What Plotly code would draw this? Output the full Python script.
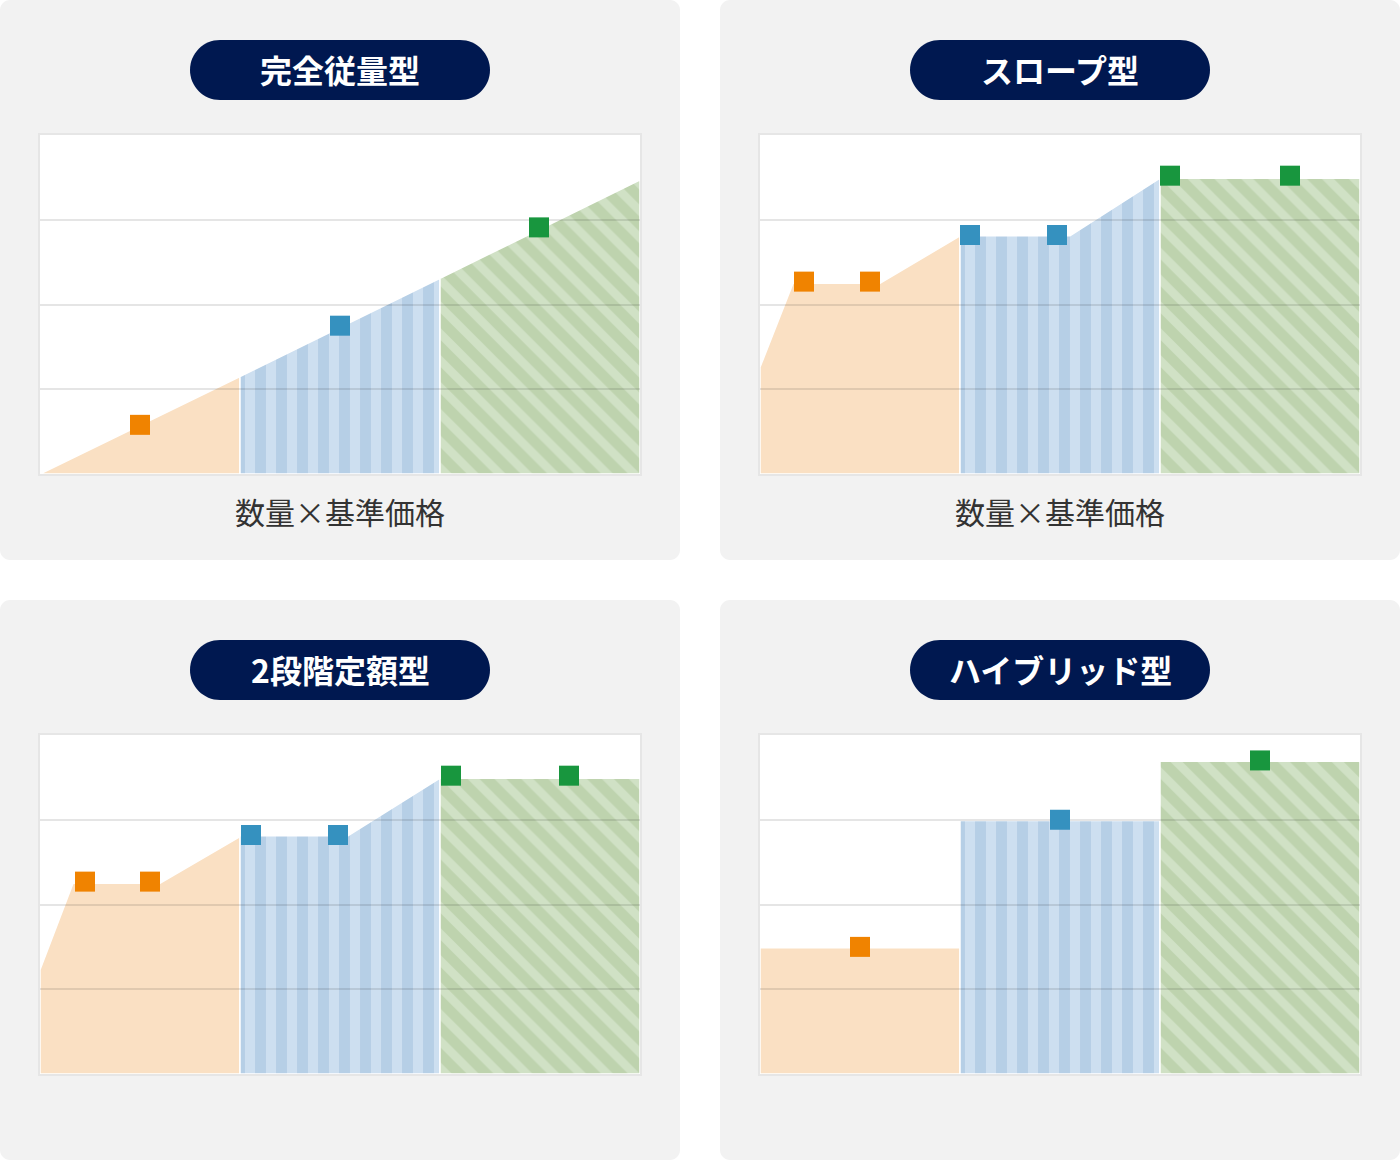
import plotly.graph_objects as go

W, H = 1400, 1160

TITLES = ["完全従量型", "スロープ型", "2段階定額型", "ハイブリッド型"]
X_LABEL = "数量×基準価格"

# x: 0-1 low band, 1-2 middle band, 2-3 high band; y: 0-4 (grid every 1)
# panel 1 完全従量型
p1_orange_x = [0, 1.0]
p1_orange_y = [0, 1.15]
p1_blue_x = [1.0, 2.0]
p1_blue_y = [1.15, 2.31]
p1_green_x = [2.0, 3.0]
p1_green_y = [2.31, 3.47]
p1_dot_orange = ([0.5], [0.58])
p1_dot_blue = ([1.5], [1.75])
p1_dot_green = ([2.495], [2.91])

# panel 2 スロープ型
p2_orange_x = [0, 0.165, 0.6, 1.0]
p2_orange_y = [1.26, 2.25, 2.25, 2.81]
p2_blue_x = [1.0, 1.55, 2.0]
p2_blue_y = [2.81, 2.81, 3.49]
p2_green_x = [2.0, 3.0]
p2_green_y = [3.49, 3.49]
p2_dot_orange = ([0.22, 0.55], [2.27, 2.27])
p2_dot_blue = ([1.05, 1.485], [2.82, 2.82])
p2_dot_green = ([2.05, 2.65], [3.52, 3.52])

# panel 3 2段階定額型
p3_orange_x = [0, 0.165, 0.6, 1.0]
p3_orange_y = [1.23, 2.25, 2.25, 2.80]
p3_blue_x = [1.0, 1.54, 2.0]
p3_blue_y = [2.81, 2.81, 3.49]
p3_green_x = [2.0, 3.0]
p3_green_y = [3.49, 3.49]
p3_dot_orange = ([0.225, 0.55], [2.27, 2.27])
p3_dot_blue = ([1.055, 1.49], [2.82, 2.82])
p3_dot_green = ([2.055, 2.645], [3.52, 3.52])

# panel 4 ハイブリッド型
p4_orange_x = [0, 1.0]
p4_orange_y = [1.49, 1.49]
p4_blue_x = [1.0, 2.0]
p4_blue_y = [2.99, 2.99]
p4_green_x = [2.0, 3.0]
p4_green_y = [3.69, 3.69]
p4_dot_orange = ([0.5], [1.5])
p4_dot_blue = ([1.5], [3.0])
p4_dot_green = ([2.5], [3.7])

panels = [
    dict(ox=0, oy=0, label=True,
         fills=[(p1_orange_x, p1_orange_y), (p1_blue_x, p1_blue_y), (p1_green_x, p1_green_y)],
         dots=[p1_dot_orange, p1_dot_blue, p1_dot_green]),
    dict(ox=720, oy=0, label=True,
         fills=[(p2_orange_x, p2_orange_y), (p2_blue_x, p2_blue_y), (p2_green_x, p2_green_y)],
         dots=[p2_dot_orange, p2_dot_blue, p2_dot_green]),
    dict(ox=0, oy=600, label=False,
         fills=[(p3_orange_x, p3_orange_y), (p3_blue_x, p3_blue_y), (p3_green_x, p3_green_y)],
         dots=[p3_dot_orange, p3_dot_blue, p3_dot_green]),
    dict(ox=720, oy=600, label=False,
         fills=[(p4_orange_x, p4_orange_y), (p4_blue_x, p4_blue_y), (p4_green_x, p4_green_y)],
         dots=[p4_dot_orange, p4_dot_blue, p4_dot_green]),
]

FILL_STYLES = [
    dict(fillcolor="#fae0c3"),
    dict(fillcolor="#cddff0",
         fillpattern=dict(shape="|", bgcolor="#cddff0", fgcolor="#b6cfe6",
                          fgopacity=1, size=21, solidity=0.52)),
    dict(fillcolor="#d0e1c5",
         fillpattern=dict(shape="\\", bgcolor="#d0e1c5", fgcolor="#bed3ae",
                          fgopacity=1, size=19, solidity=0.55)),
]
DOT_COLORS = ["#f08300", "#3591bf", "#18963e"]
NAVY = "#001850"
PANEL_BG = "#f2f2f2"


def fx(px):
    return px / W


def fy(py):
    return 1 - py / H


def rounded(x0, y0, x1, y1, r):
    # rounded rect in pixels -> paper path (cubic beziers survive the affine map)
    k = 0.5523 * r
    pts = [
        ("M", [(x0 + r, y0)]),
        ("L", [(x1 - r, y0)]),
        ("C", [(x1 - r + k, y0), (x1, y0 + r - k), (x1, y0 + r)]),
        ("L", [(x1, y1 - r)]),
        ("C", [(x1, y1 - r + k), (x1 - r + k, y1), (x1 - r, y1)]),
        ("L", [(x0 + r, y1)]),
        ("C", [(x0 + r - k, y1), (x0, y1 - r + k), (x0, y1 - r)]),
        ("L", [(x0, y0 + r)]),
        ("C", [(x0, y0 + r - k), (x0 + r - k, y0), (x0 + r, y0)]),
    ]
    s = ""
    for cmd, ps in pts:
        s += cmd + " ".join(f"{fx(a):.5f},{fy(b):.5f}" for a, b in ps)
    return s + "Z"


fig = go.Figure()
shapes = []
annotations = []
layout_axes = {}

for i, p in enumerate(panels):
    ox, oy = p["ox"], p["oy"]
    a = i + 1
    b = i + 5
    xa, ya = f"x{a}", f"y{a}"
    xb, yb = f"x{b}", f"y{b}"
    dom_x = [fx(ox + 40), fx(ox + 640)]
    dom_y = [fy(oy + 474), fy(oy + 135)]

    shapes.append(dict(type="path", xref="paper", yref="paper", layer="below",
                       path=rounded(ox, oy, ox + 680, oy + 560, 10),
                       fillcolor=PANEL_BG, line=dict(width=0)))
    shapes.append(dict(type="rect", xref="paper", yref="paper", layer="below",
                       x0=dom_x[0], x1=dom_x[1], y0=dom_y[0], y1=dom_y[1],
                       fillcolor="white", line=dict(width=0)))
    shapes.append(dict(type="path", xref="paper", yref="paper", layer="below",
                       path=rounded(ox + 190, oy + 40, ox + 490, oy + 100, 30),
                       fillcolor=NAVY, line=dict(width=0)))
    annotations.append(dict(text=TITLES[i], xref="paper", yref="paper",
                            x=fx(ox + 340), y=fy(oy + 69), showarrow=False,
                            xanchor="center", yanchor="middle",
                            font=dict(family="Noto Sans CJK JP", size=32,
                                      color="white", weight="bold")))
    if p["label"]:
        annotations.append(dict(text=X_LABEL, xref="paper", yref="paper",
                                x=fx(ox + 340), y=fy(oy + 511), showarrow=False,
                                xanchor="center", yanchor="middle",
                                font=dict(family="Noto Sans CJK JP", size=30,
                                          color="#333333")))

    for (xs, ys), style in zip(p["fills"], FILL_STYLES):
        fig.add_trace(go.Scatter(
            x=list(xs) + [xs[-1], xs[0], xs[0]],
            y=list(ys) + [0, 0, ys[0]],
            mode="lines", fill="toself",
            line=dict(color="white", width=1.5),
            hoverinfo="skip", showlegend=False,
            xaxis=xa, yaxis=ya, **style))

    for (dx, dy), c in zip(p["dots"], DOT_COLORS):
        fig.add_trace(go.Scatter(
            x=dx, y=dy, mode="markers",
            marker=dict(symbol="square", size=20, color=c, line=dict(width=0)),
            showlegend=False, xaxis=xb, yaxis=yb))

    common = dict(fixedrange=True, zeroline=False, showticklabels=False, ticks="")
    layout_axes[f"xaxis{a}"] = dict(domain=dom_x, range=[0, 3], anchor=ya, showgrid=False,
                                    showline=True, mirror=True, linecolor="#e6e6e6",
                                    linewidth=2, **common)
    layout_axes[f"yaxis{a}"] = dict(domain=dom_y, range=[0, 4], anchor=xa, showgrid=False,
                                    showline=True, mirror=True, linecolor="#e6e6e6",
                                    linewidth=2, **common)
    layout_axes[f"xaxis{b}"] = dict(domain=dom_x, range=[0, 3], anchor=yb, showgrid=False,
                                    showline=False, **common)
    layout_axes[f"yaxis{b}"] = dict(domain=dom_y, range=[0, 4], anchor=xb, showgrid=True,
                                    gridcolor="rgba(0,0,0,0.1)", gridwidth=2,
                                    tickmode="array", tickvals=[1, 2, 3],
                                    showline=False, **common)

fig.update_layout(
    width=W, height=H,
    margin=dict(l=0, r=0, t=0, b=0),
    paper_bgcolor="white",
    plot_bgcolor="rgba(0,0,0,0)",
    shapes=shapes,
    annotations=annotations,
    showlegend=False,
    **layout_axes,
)

fig.write_html("out.html", config={"displayModeBar": False},
               post_script="document.body.style.margin='0';")
